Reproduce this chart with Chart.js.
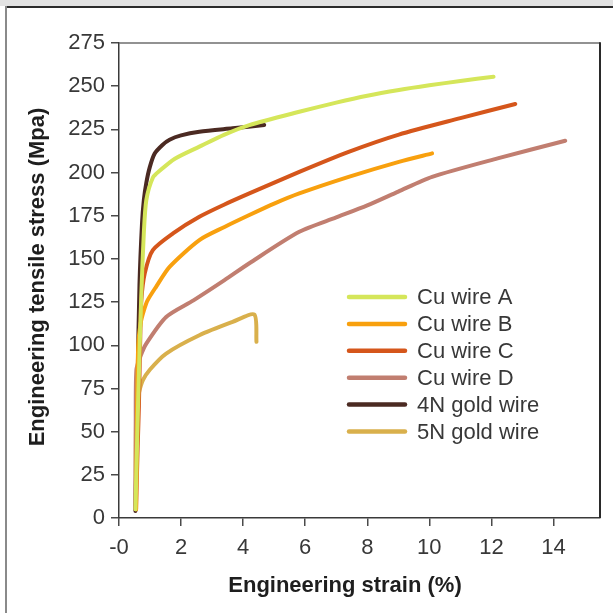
<!DOCTYPE html>
<html>
<head>
<meta charset="utf-8">
<script src="https://cdn.jsdelivr.net/npm/chart.js@4.4.1/dist/chart.umd.min.js"></script>
<style>
  html, body { margin: 0; padding: 0; background: #fff; }
  #frame { position: relative; width: 613px; height: 613px; overflow: hidden; background: #fff; }
  #band { position: absolute; left: 0; top: 0; width: 613px; height: 6px; background: #e2e2e2; }
  #rule { position: absolute; left: 5px; top: 6px; width: 608px; height: 1.5px; background: #2b2b2b; }
  #side { position: absolute; left: 5px; top: 6px; width: 2px; height: 607px; background: #8a8a8a; }
  canvas { position: absolute; left: 0; top: 0; }
</style>
</head>
<body>
<div id="frame">
  <div id="band"></div>
  <div id="rule"></div>
  <div id="side"></div>
  <canvas id="chart" width="613" height="613"></canvas>
</div>
<script>
// Stress–strain curves of bonding wires: strain in %, stress in MPa
const seriesNames = ['Cu wire A', 'Cu wire B', 'Cu wire C', 'Cu wire D', '4N gold wire', '5N gold wire'];
const seriesColors = ['#d5e65a', '#f8a00e', '#d5561b', '#c17e70', '#4b2a22', '#d9b04c'];

const cuA_strain = [0.53, 0.62, 0.72, 0.80, 0.88, 1.09, 1.31, 1.8, 2.59, 3.4, 4.20, 5.81, 7.0, 8.0, 9.02, 10.0, 11.0, 12.07];
const cuA_stress = [5, 70, 130, 165, 184, 197, 201, 208, 215, 222, 227.5, 235.2, 240.5, 244.5, 247.8, 250.5, 253, 255.5];

const cuB_strain = [0.55, 0.58, 0.62, 0.70, 0.80, 0.92, 1.20, 1.63, 2.59, 3.4, 4.20, 5.0, 5.81, 7.4, 9.02, 10.09];
const cuB_stress = [5, 60, 100, 113, 120, 126, 134, 145.4, 160.9, 168.5, 175.4, 182, 187.9, 197.5, 206.2, 211.1];

const cuC_strain = [0.55, 0.60, 0.64, 0.68, 0.72, 0.83, 1.09, 1.74, 2.59, 3.4, 4.20, 5.81, 7.4, 9.02, 11.0, 12.77];
const cuC_stress = [5, 40, 64, 100, 126, 141.6, 155.1, 164.8, 174.4, 181.5, 187.9, 200.4, 212, 222, 231.5, 239.7];

const cuD_strain = [0.53, 0.54, 0.56, 0.70, 0.88, 1.52, 2.4, 3.4, 4.2, 5.81, 7.0, 8.0, 9.0, 10.09, 12.2, 14.38];
const cuD_stress = [5, 50, 85.6, 94, 101, 116.4, 126, 137.7, 147.5, 165.7, 174, 181, 189, 197.5, 208.2, 218.4];

const au4N_strain = [0.53, 0.60, 0.66, 0.74, 0.80, 0.88, 0.99, 1.15, 1.40, 1.63, 2.0, 2.59, 3.66, 4.68];
const au4N_stress = [4, 80, 135, 170, 184, 194, 203, 211, 216, 219, 221.5, 223.6, 225.6, 227.5];

const au5N_strain = [0.53, 0.54, 0.56, 0.65, 0.77, 1.0, 1.52, 2.59, 3.66, 4.36, 4.43];
const au5N_stress = [5, 40, 64.3, 73, 79.8, 86, 95.2, 105.8, 113.5, 117.8, 102];

const xTickValues = [0, 2, 4, 6, 8, 10, 12, 14];
const xTickLabels = ['-0', '2', '4', '6', '8', '10', '12', '14'];
const yTickValues = [0, 25, 50, 75, 100, 125, 150, 175, 200, 225, 250, 275];

const xTitle = 'Engineering strain (%)';
const yTitle = 'Engineering tensile stress (Mpa)';

const strainSets = [cuA_strain, cuB_strain, cuC_strain, cuD_strain, au4N_strain, au5N_strain];
const stressSets = [cuA_stress, cuB_stress, cuC_stress, cuD_stress, au4N_stress, au5N_stress];

const pair = (xs, ys) => xs.map((x, i) => ({ x, y: ys[i] }));

const datasets = seriesNames.map((name, i) => ({
  label: name,
  data: pair(strainSets[i], stressSets[i]),
  borderColor: seriesColors[i],
  backgroundColor: seriesColors[i],
  borderWidth: 4,
  borderCapStyle: 'round',
  borderJoinStyle: 'round',
  pointRadius: 0,
  tension: 0.25,
  fill: false
}));

const FONT = '"Liberation Sans", Arial, Helvetica, sans-serif';
Chart.defaults.font.family = FONT;
Chart.defaults.font.size = 22;
Chart.defaults.color = '#383838';

// Frame edges, axis titles and the legend block inside the plot
const decorations = {
  id: 'decorations',
  afterDraw(chart) {
    const { ctx, chartArea: a } = chart;
    ctx.save();
    ctx.lineCap = 'butt';
    ctx.strokeStyle = '#6e6e6e';
    ctx.lineWidth = 1.5;
    ctx.beginPath();
    ctx.moveTo(a.left, a.top);
    ctx.lineTo(a.right, a.top);
    ctx.stroke();
    ctx.strokeStyle = '#2a2a2a';
    ctx.lineWidth = 2;
    ctx.beginPath();
    ctx.moveTo(a.right, a.top - 0.75);
    ctx.lineTo(a.right, a.bottom);
    ctx.stroke();

    ctx.fillStyle = '#1e1e1e';
    ctx.font = 'bold 22px ' + FONT;
    ctx.textAlign = 'center';
    ctx.textBaseline = 'middle';
    ctx.fillText(xTitle, 345, 586);
    ctx.save();
    ctx.translate(38, 277);
    ctx.rotate(-Math.PI / 2);
    ctx.fillText(yTitle, 0, 0);
    ctx.restore();

    const lx0 = 349, lx1 = 405, tx = 417, ly0 = 297, gap = 26.9;
    ctx.font = '22px ' + FONT;
    ctx.textAlign = 'left';
    ctx.fillStyle = '#383838';
    chart.data.datasets.forEach((ds, i) => {
      const y = ly0 + i * gap;
      ctx.strokeStyle = ds.borderColor;
      ctx.lineWidth = 4.5;
      ctx.lineCap = 'round';
      ctx.beginPath();
      ctx.moveTo(lx0, y);
      ctx.lineTo(lx1, y);
      ctx.stroke();
      ctx.fillText(ds.label, tx, y + 1);
    });
    ctx.restore();
  }
};

new Chart(document.getElementById('chart'), {
  type: 'line',
  data: { datasets },
  options: {
    responsive: false,
    animation: false,
    layout: { padding: { top: 43, right: 13, left: 0, bottom: 0 } },
    plugins: { legend: { display: false }, tooltip: { enabled: false } },
    scales: {
      x: {
        type: 'linear',
        min: 0,
        max: 15.5,
        afterBuildTicks: s => { s.ticks = xTickValues.map(v => ({ value: v })); },
        afterFit: s => { s.height = 95; },
        ticks: {
          padding: 9,
          maxRotation: 0,
          autoSkip: false,
          callback: v => xTickLabels[xTickValues.indexOf(v)]
        },
        grid: { drawOnChartArea: false, tickLength: 8, color: '#4a4a4a', lineWidth: 1.5 },
        border: { color: '#3a3a3a', width: 1.5 }
      },
      y: {
        type: 'linear',
        min: 0,
        max: 275,
        afterBuildTicks: s => { s.ticks = yTickValues.map(v => ({ value: v })); },
        afterFit: s => { s.width = 119; },
        ticks: { padding: 6, autoSkip: false, callback: v => String(v) },
        grid: { drawOnChartArea: false, tickLength: 8, color: '#4a4a4a', lineWidth: 1.5 },
        border: { color: '#3a3a3a', width: 1.5 }
      }
    }
  },
  plugins: [decorations]
});
</script>
</body>
</html>
